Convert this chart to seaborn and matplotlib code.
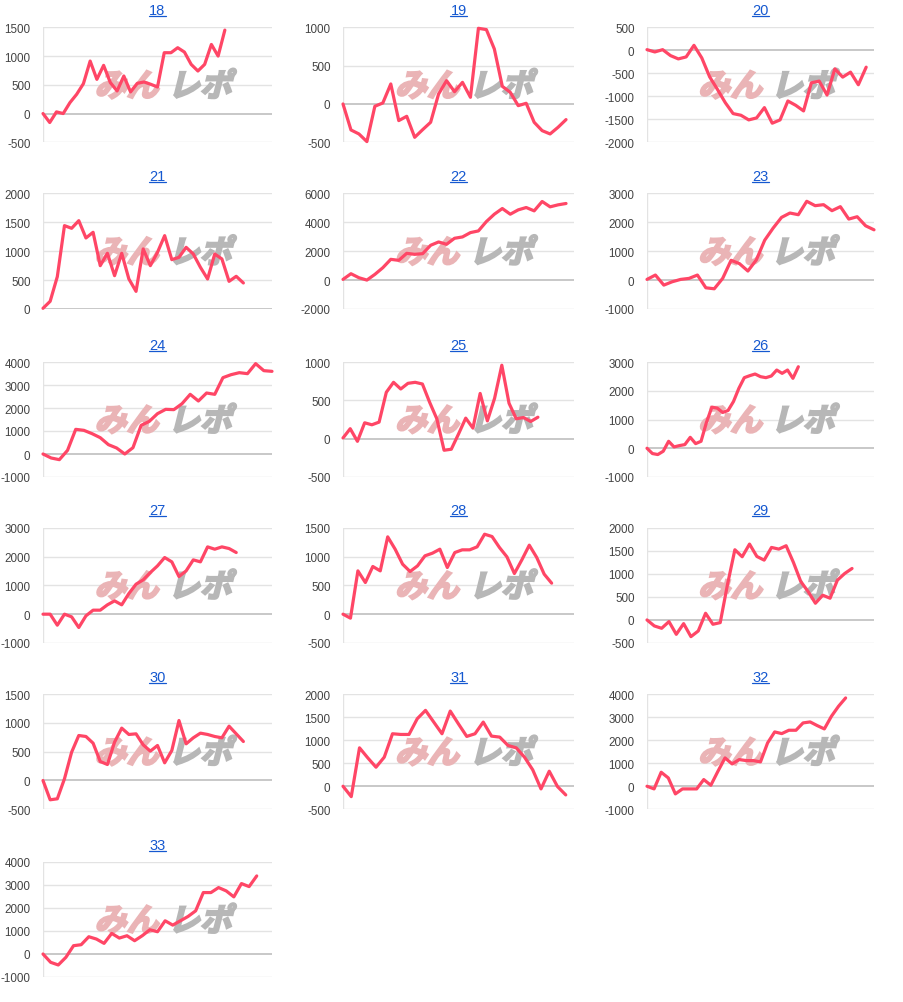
import numpy as np
import pandas as pd
import matplotlib
matplotlib.use('Agg')
import matplotlib.pyplot as plt
import matplotlib.transforms as mtransforms
from matplotlib.textpath import TextPath
from matplotlib.patches import PathPatch
from matplotlib.font_manager import FontProperties
from matplotlib.lines import Line2D
import seaborn as sns

sns.set_theme(style='white')
plt.rcParams['font.family'] = ['Liberation Sans', 'DejaVu Sans']

# --- data ---
titles = ['18', '19', '20', '21', '22', '23', '24', '25',
          '26', '27', '28', '29', '30', '31', '32', '33']

s18 = [0, -156, 29, 0, 190, 335, 520, 913, 595, 838, 538, 393, 653, 376, 526, 549,
       509, 462, 1058, 1058, 1145, 1069, 855, 740, 855, 1202, 1000, 1451]
s19 = [0, -339, -391, -491, -30, 13, 261, -217, -161, -435, -335, -239, 130, 304, 160,
       282, 87, 987, 970, 717, 230, 152, -22, 9, -239, -348, -391, -304, -204]
s20 = [14, -36, 14, -115, -187, -144, 108, -166, -576, -850, -1138, -1376, -1412, -1513,
       -1470, -1246, -1585, -1513, -1102, -1196, -1318, -706, -670, -972, -403, -583,
       -475, -749, -367]
s21 = [12, 133, 559, 1441, 1395, 1527, 1228, 1326, 749, 963, 576, 963, 519, 305, 1038,
       749, 980, 1268, 853, 893, 1066, 951, 720, 519, 951, 865, 478, 565, 450]
s22 = [46, 439, 162, 0, 393, 855, 1434, 1364, 1850, 1780, 1827, 2405, 2636, 2474, 2890,
       2983, 3283, 3399, 4046, 4555, 4948, 4555, 4855, 5017, 4786, 5434, 5064, 5202, 5295]
s23 = [23, 174, -174, -58, 23, 58, 174, -267, -301, 58, 684, 568, 313, 695, 1379, 1796,
       2167, 2318, 2260, 2724, 2572, 2607, 2399, 2538, 2109, 2190, 1877, 1738]
s24 = [0, -174, -246, 159, 1072, 1029, 884, 710, 406, 261, 0, 275, 1246, 1420, 1754,
       1942, 1928, 2188, 2594, 2304, 2652, 2594, 3319, 3449, 3536, 3493, 3928, 3623, 3594]
s25 = [9, 130, -35, 207, 181, 216, 605, 735, 648, 722, 735, 713, 475, 259, -151, -138,
       60, 268, 138, 590, 232, 527, 958, 462, 259, 276, 224, 280]
s26 = [0, -184, -219, -104, 242, 46, 92, 127, 380, 161, 242, 899, 1429, 1395, 1245,
       1314, 1625, 2086, 2455, 2524, 2582, 2490, 2455, 2513, 2720, 2605, 2720, 2432, 2835]
s27 = [0, 0, -382, 0, -92, -462, -58, 139, 139, 324, 462, 324, 717, 1040, 1191, 1445,
       1676, 1965, 1815, 1306, 1503, 1884, 1815, 2335, 2254, 2335, 2277, 2139]
s28 = [0, -69, 751, 549, 827, 751, 1341, 1127, 867, 740, 838, 1012, 1058, 1127, 809,
       1069, 1116, 1116, 1168, 1387, 1347, 1156, 994, 705, 942, 1197, 983, 694, 538]
s29 = [0, -130, -181, -36, -312, -80, -362, -239, 145, -94, -58, 775, 1522, 1370, 1645,
       1377, 1297, 1572, 1536, 1609, 1246, 833, 616, 362, 536, 471, 862, 1007, 1116]
s30 = [0, -335, -318, 29, 491, 780, 763, 647, 329, 277, 665, 908, 798, 809, 618, 509,
       607, 306, 520, 1040, 636, 740, 821, 798, 763, 740, 942, 809, 676]
s31 = [0, -225, 833, 616, 413, 630, 1138, 1123, 1123, 1464, 1645, 1391, 1138, 1630,
       1350, 1080, 1138, 1391, 1087, 1065, 884, 833, 630, 355, -58, 326, -7, -188]
s32 = [0, -116, 607, 361, -332, -116, -116, -116, 289, 43, 650, 1228, 968, 1156, 1112,
       1112, 1055, 1879, 2355, 2283, 2428, 2428, 2746, 2789, 2630, 2486, 3035, 3468, 3829]
s33 = [0, -361, -477, -144, 361, 404, 751, 650, 462, 895, 693, 794, 578, 794, 1054, 968,
       1444, 1256, 1444, 1632, 1877, 2671, 2671, 2888, 2744, 2484, 3062, 2931, 3394]

series = [s18, s19, s20, s21, s22, s23, s24, s25,
          s26, s27, s28, s29, s30, s31, s32, s33]

# number of x slots on each horizontal axis
x_slots = [34, 29, 29, 32, 29, 27, 28, 32, 42, 32, 31, 31, 32, 28, 32, 30]

# y axis: (min, max, step)
y_ticks = [(-500, 1500, 500), (-500, 1000, 500), (-2000, 500, 500), (0, 2000, 500),
           (-2000, 6000, 2000), (-1000, 3000, 1000), (-1000, 4000, 1000), (-500, 1000, 500),
           (-1000, 3000, 1000), (-1000, 3000, 1000), (-500, 1500, 500), (-500, 2000, 500),
           (-500, 1500, 500), (-500, 2000, 500), (-1000, 4000, 1000), (-1000, 4000, 1000)]

# --- layout (pixels) ---
W, H = 904, 1003
col_left = [43, 343, 647]
col_right = [272, 574, 874]
row_top = [28.3, 194.3, 363, 528.7, 695, 863]
row_bot = [143.3, 310, 478, 644, 810.3, 978]

LINE = '#ff4666'
GRID = '#e3e3e3'
BASE = '#c4c4c4'
LINK = '#1558d0'

fig = plt.figure(figsize=(W / 100, H / 100), dpi=100)
wm_font = FontProperties(family='Noto Sans CJK JP', weight='bold')

title_texts = []
for i, (name, vals) in enumerate(zip(titles, series)):
    r, c = divmod(i, 3)
    ax = fig.add_axes([col_left[c] / W, 1 - row_bot[r] / H,
                       (col_right[c] - col_left[c]) / W, (row_bot[r] - row_top[r]) / H])
    lo, hi, st = y_ticks[i]
    ticks = np.arange(lo, hi + st, st)

    for v in ticks:
        ax.axhline(v, color=BASE if v == 0 else GRID, lw=1.3 if v == 0 else 1.0, zorder=1)
    ax.axvline(0, color=GRID, lw=1.0, zorder=1)

    # watermark logo
    for txt, fx, col in [('みん', 0.225, '#eab4b6'), ('レポ', 0.545, '#b7b7b7')]:
        tp = TextPath((0, 0), txt, size=23, prop=wm_font)
        tr = (mtransforms.Affine2D().skew_deg(14, 0).scale(fig.dpi / 72.0)
              + mtransforms.ScaledTranslation(fx, 0.40, ax.transAxes))
        ax.add_patch(PathPatch(tp, transform=tr, facecolor=col, edgecolor=col, lw=1.6,
                               zorder=2, clip_on=False))

    df = pd.DataFrame({'x': np.arange(len(vals)), 'y': vals})
    sns.lineplot(data=df, x='x', y='y', ax=ax, color=LINE, linewidth=2.3, zorder=3)
    for ln in ax.lines[-1:]:
        ln.set_clip_on(False)

    ax.set_xlim(0, x_slots[i])
    ax.set_ylim(lo, hi)
    ax.set_xticks([])
    ax.set_yticks(ticks)
    ax.set_yticklabels([str(int(v)) for v in ticks])
    ax.tick_params(axis='y', length=0, pad=9, labelsize=8.4, labelcolor='#444444')
    ax.set_xlabel('')
    ax.set_ylabel('')
    for sp in ax.spines.values():
        sp.set_visible(False)

    t = ax.annotate(name, xy=(0.5, 1.0), xycoords='axes fraction', xytext=(0, 12.5),
                    textcoords='offset points', ha='center', va='center',
                    fontsize=10.5, color=LINK)
    title_texts.append(t)

# underline the link-style titles
fig.canvas.draw()
rend = fig.canvas.get_renderer()
for t in title_texts:
    bb = t.get_window_extent(rend)
    y = bb.y0 + 1
    fig.add_artist(Line2D([bb.x0 / W, bb.x1 / W], [y / H, y / H],
                          transform=fig.transFigure, color=LINK, lw=0.9))

fig.savefig('out.png', dpi=100)
